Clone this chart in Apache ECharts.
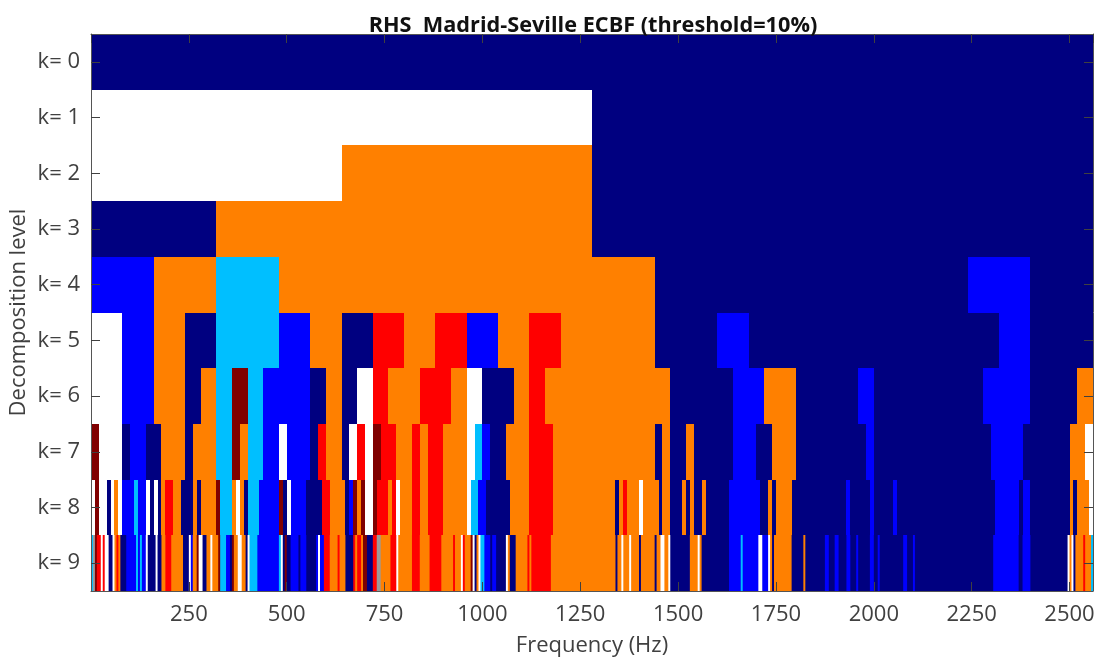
<!DOCTYPE html>
<html><head><meta charset="utf-8">
<style>html,body{margin:0;padding:0;background:#fff}#c{width:1103px;height:662px}</style>
<script src="https://cdn.jsdelivr.net/npm/echarts@6/dist/echarts.min.js"></script>
</head><body><div id="c"></div>
<script>
// Each level k has 2^k frequency bins. Entries: "<first bin><class>"; a class holds until the next entry.
const level0 = "0N";
const level1 = "0W 1N";
const level2 = "0W 1O 2N";
const level3 = "0N 1O 4N";
const level4 = "0B 1O 2L 3O 9N 14B 15N";
const level5 = "0W 1B 2O 3N 4L 6B 7O 8N 9R 10O 11R 12B 13O 14R 15O 18N 20B 21N 29B 30N";
const level6 = "0W 2B 4O 6N 7O 8L 9D 10L 11B 14N 15O 16N 17W 18R 19O 21R 23O 24W 25N 27O 28R 29O 37N 41B 43O 45N 49B 50N 57B 60N 63O";
const level7 = "0D 1W 4N 5B 7N 9O 12N 13O 16L 18D 19O 20L 22B 24W 25B 28N 29R 30O 32N 33W 34R 35W 36D 37R 39O 41R 42O 43R 45O 48W 49L 50B 51N 53O 56R 59O 72N 73O 74N 76O 77N 82B 85N 87O 90N 99B 100N 115B 119N 125O 127W";
const level8 = "0W 1D 2W 4N 5W 6O 7W 8B 11L 12B 14W 15N 16W 17N 18O 19R 21O 23N 26O 27N 28O 32D 33L 36O 37W 38O 39N 40L 43B 48D 49N 50W 51B 55N 59R 61O 65N 66B 67D 68O 69D 70W 72D 73R 76O 77R 78W 79O 82R 84O 86R 90O 96W 97L 99B 101N 107O 112R 118O 134N 135O 136R 137O 140W 141O 145N 146O 148N 151O 152N 153O 154N 156O 157N 163B 171N 173O 174N 175O 179N 193B 194N 199B 200N 205B 206N 231B 237N 238B 240N 250O 251N 252O 255W";
const level9 = "0L 1G 2D 3R 5W 6R 7W 9N 11W 12O 13R 14O 15N 18B 23L 24B 25L 26B 28W 29N 33W 34N 36O 38R 41O 47N 50W 51B 52O 54D 55W 57N 59O 61W 62O 65D 66L 69B 71N 72D 73O 75W 77O 79N 80W 81L 85B 96L 97W 98N 99D 100N 102B 106N 107B 110N 115B 116W 117B 119R 122O 126R 127O 130N 134R 135O 136R 138O 139D 141N 144R 146G 148O 153R 156W 157O 164R 168O 173R 179O 185R 186O 189W 190R 191O 194D 195W 196N 197O 198W 199L 201B 204N 205B 207N 212W 213O 214N 217O 223R 224O 225R 235O 268N 269O 271W 272O 275W 276O 280N 281O 288N 289O 291W 293O 295W 296N 306O 310W 311O 312N 326B 332L 333B 341W 343B 346W 347O 348N 349O 358N 364O 365N 375B 377N 380B 382N 386B 388N 391B 392N 398B 400N 402B 403N 415B 417N 420B 421N 461B 474N 476B 480N 499W 500O 501W 502N 503O 507R 508O 511L";
const levels = [level0, level1, level2, level3, level4, level5, level6, level7, level8, level9];
const levelLabels = ["k= 0","k= 1","k= 2","k= 3","k= 4","k= 5","k= 6","k= 7","k= 8","k= 9"];
const classColors = {N:"#000080",B:"#0000FF",L:"#00BFFF",W:"#FFFFFF",O:"#FF8000",R:"#FF0000",D:"#800000",G:"#9A9A9A"};
const maxFreq = 2560;
const freqTicks = 250;

const cells = [];
levels.forEach((txt, k) => {
  const bins = Math.pow(2, k), w = maxFreq / bins;
  const parts = txt.split(" ").map(s => [parseInt(s, 10), s.slice(-1)]);
  parts.forEach((p, i) => {
    const end = i + 1 < parts.length ? parts[i + 1][0] : bins;
    cells.push([p[0] * w, end * w, k, p[1]]);
  });
});

const font = "'Open Sans'";
const ink = "#404040";
const chart = echarts.init(document.getElementById("c"), null, {renderer:"canvas"});
const xBase = {type:"value",min:0,max:maxFreq,interval:freqTicks};
const yBase = {type:"category",data:levelLabels,inverse:true};
const line = {show:true,onZero:false,lineStyle:{color:"#555555",width:1}};
const tick = {show:true,inside:true,length:9,lineStyle:{color:"#404040",width:1}};
chart.setOption({
  animation:false,
  backgroundColor:"#ffffff",
  title:{text:"RHS  Madrid-Seville ECBF (threshold=10%)",left:588,top:10,textAlign:"center",
    textStyle:{fontFamily:font,fontWeight:"bold",fontSize:21.7,color:"#111111"}},
  grid:{left:91,right:10,top:34,bottom:71,containLabel:false,outerBoundsMode:"none"},
  xAxis:[
    Object.assign({},xBase,{position:"bottom",z:5,axisLine:line,axisTick:tick,splitLine:{show:false},
      name:"Frequency (Hz)",nameLocation:"middle",nameGap:44,
      nameTextStyle:{fontFamily:font,fontSize:22,color:ink},
      axisLabel:{show:true,fontFamily:font,fontSize:22,color:ink,margin:13,showMinLabel:false,
        formatter:v=>v===0?"":String(v)}}),
    Object.assign({},xBase,{position:"top",z:5,axisLine:line,axisTick:tick,splitLine:{show:false},axisLabel:{show:false}})
  ],
  yAxis:[
    Object.assign({},yBase,{position:"left",z:5,axisLine:line,
      axisTick:Object.assign({alignWithLabel:true},tick),splitLine:{show:false},
      name:"Decomposition level",nameLocation:"middle",nameGap:61,nameRotate:90,nameMoveOverlap:false,
      nameTextStyle:{fontFamily:font,fontSize:22,color:ink},
      axisLabel:{fontFamily:font,fontSize:22,color:ink,margin:11}}),
    Object.assign({},yBase,{position:"right",z:5,axisLine:line,
      axisTick:Object.assign({alignWithLabel:true},tick),splitLine:{show:false},axisLabel:{show:false}})
  ],
  series:[{
    type:"custom",z:1,silent:true,clip:true,
    xAxisIndex:0,yAxisIndex:0,
    encode:{x:[0,1],y:2},
    data:cells,
    renderItem:function(params,api){
      const k=api.value(2);
      const a=api.coord([api.value(0),k]);
      const b=api.coord([api.value(1),k]);
      const h=api.size([0,1])[1];
      // The finest level keeps fractional edges, so its narrow stripes blend softly; the next stripe paints over the 1px overlap.
      const fine=k>=9;
      const x0=fine?a[0]:Math.round(a[0]);
      const x1=fine?b[0]+1:Math.round(b[0]);
      const y0=Math.round(a[1]-h/2),y1=Math.round(a[1]+h/2);
      return {type:"rect",shape:{x:x0,y:y0,width:x1-x0,height:y1-y0},
        style:{fill:classColors[cells[params.dataIndex][3]]}};
    }
  }]
});
</script></body></html>
